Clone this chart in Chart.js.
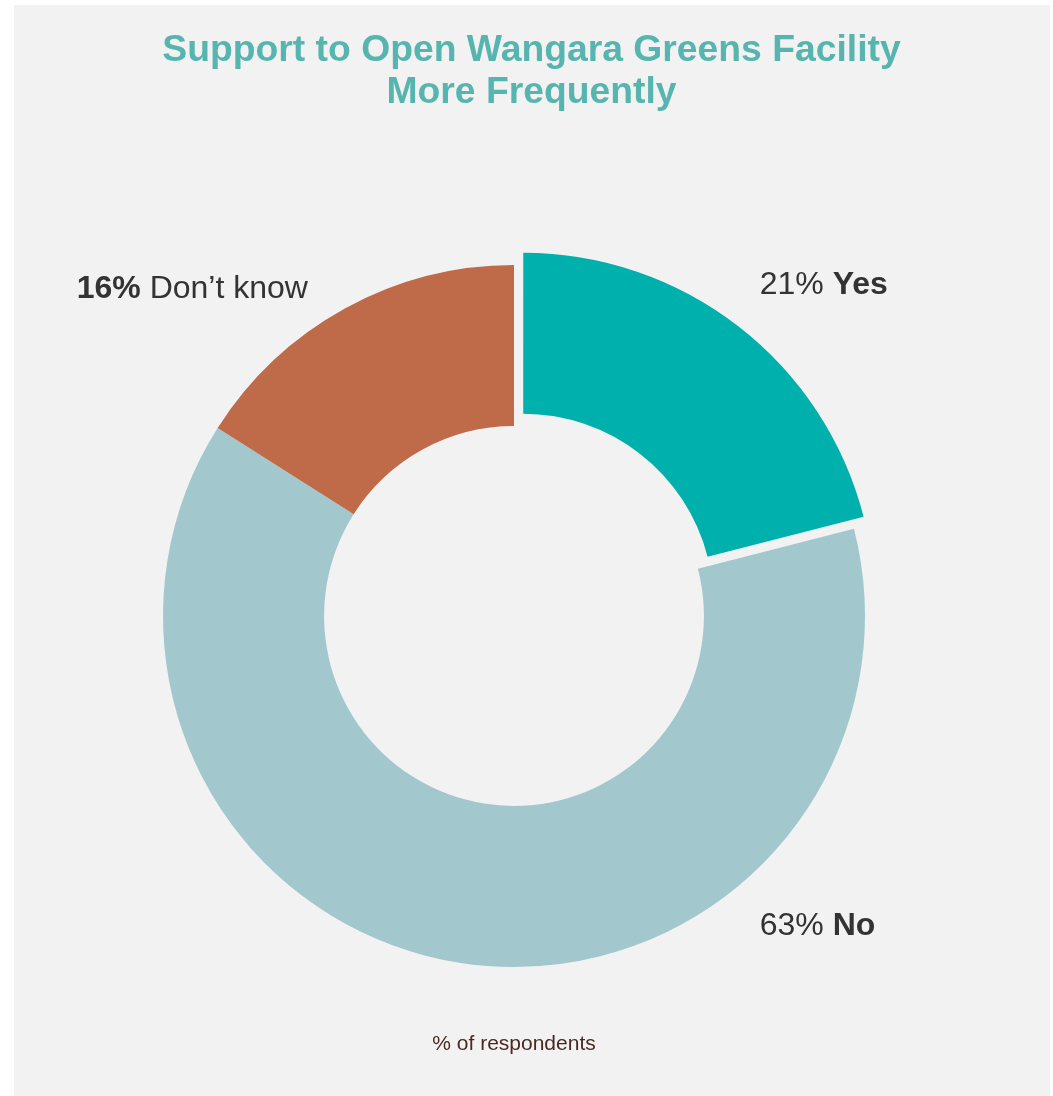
<!DOCTYPE html>
<html>
<head>
<meta charset="utf-8">
<title>Support to Open Wangara Greens Facility More Frequently</title>
<script src="https://cdn.jsdelivr.net/npm/chart.js@4.4.1/dist/chart.umd.min.js"></script>
<style>
  html, body { margin: 0; padding: 0; background: #ffffff; }
  #wrap { position: absolute; left: 0; top: 0; width: 1053px; height: 1096px; }
</style>
</head>
<body>
<div id="wrap"><canvas id="myChart"></canvas></div>
<script>
// data
var categories = ["Yes", "No", "Don\u2019t know"];
var percentValues = [21, 63, 16];
var titleLines = ["Support to Open Wangara Greens Facility", "More Frequently"];
var captionText = "% of respondents";

var FONT = '"Liberation Sans", Arial, Helvetica, sans-serif';
var sliceColors = ["#00B0AD", "#A2C8CE", "#BF6A49"];
// which half of each label is bold
var boldPart = ["name", "name", "pct"];
// label anchor relative to centre, in units of outer radius; align left/right
var labelPlace = [
  { fx: 0.70, fy: -0.917, align: "left" },
  { fx: 0.70, fy: 0.909, align: "left" },
  { fx: -0.587, fy: -0.906, align: "right" }
];

var panelPlugin = {
  id: "panel",
  beforeDraw: function (chart) {
    var c = chart.ctx;
    c.save();
    c.fillStyle = "#F2F2F2";
    c.fillRect(14, 5, 1036, 1091);
    c.restore();
  },
  afterDraw: function (chart) {
    var c = chart.ctx;
    c.save();
    // title
    c.fillStyle = "#57B5AF";
    c.font = "bold 37.3px " + FONT;
    c.textAlign = "center";
    c.textBaseline = "alphabetic";
    c.fillText(titleLines[0], 531.5, 61);
    c.fillText(titleLines[1], 531.5, 103);
    // caption
    c.fillStyle = "#4A2A20";
    c.font = "21px " + FONT;
    c.fillText(captionText, 514, 1050);

    // slice labels
    var meta = chart.getDatasetMeta(0);
    var arc0 = meta.data[0];
    var cx = arc0.x, cy = arc0.y;
    var R = meta.controller.outerRadius;
    c.fillStyle = "#333333";
    c.textAlign = "left";
    for (var i = 0; i < categories.length; i++) {
      var pct = percentValues[i] + "%";
      var name = categories[i];
      var parts = [
        { t: pct + " ", bold: boldPart[i] === "pct" },
        { t: name, bold: boldPart[i] === "name" }
      ];
      var total = 0;
      parts.forEach(function (p) {
        c.font = (p.bold ? "bold " : "") + "32px " + FONT;
        p.w = c.measureText(p.t).width;
        total += p.w;
      });
      var pl = labelPlace[i];
      var x = cx + pl.fx * R;
      var y = cy + pl.fy * R;
      if (pl.align === "right") x -= total;
      parts.forEach(function (p) {
        c.font = (p.bold ? "bold " : "") + "32px " + FONT;
        c.fillText(p.t, x, y);
        x += p.w;
      });
    }
    c.restore();
  }
};

var ctx = document.getElementById("myChart").getContext("2d");
var myChart = new Chart(ctx, {
  type: "doughnut",
  data: {
    labels: categories,
    datasets: [
      {
        data: percentValues,
        backgroundColor: sliceColors,
        borderWidth: 0,
        offset: [60, 0, 0],
        radius: 351,
        cutout: "54.1%"
      }
    ]
  },
  options: {
    responsive: true,
    maintainAspectRatio: false,
    animation: false,
    layout: { padding: { left: 0, right: 25, top: 250, bottom: 114 } },
    plugins: {
      legend: { display: false },
      tooltip: { enabled: false },
      title: { display: false }
    }
  },
  plugins: [panelPlugin]
});
</script>
</body>
</html>
